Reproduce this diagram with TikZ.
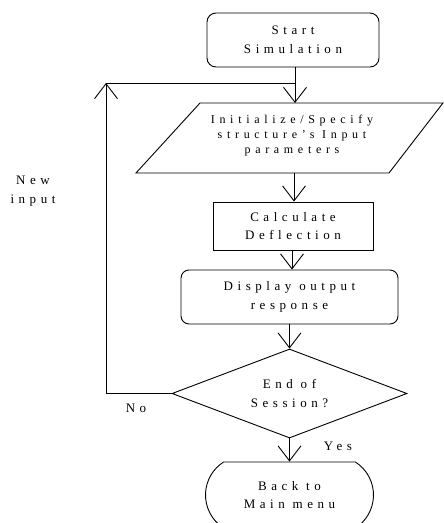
\documentclass[tikz,border=0pt]{standalone}
\usepackage{fontspec}
\setmainfont{Liberation Serif}[LetterSpace=35]
\usetikzlibrary{arrows.meta,shapes.geometric,shapes.misc}
\begin{document}
\begin{tikzpicture}[x=1pt,y=-1pt,
  line width=0.9pt,
  every node/.style={font=\fontsize{13}{18.5}\selectfont, align=center, inner sep=0pt},
  txt/.style={},
  ptxt/.style={font=\fontsize{12}{15}\selectfont\addfontfeature{LetterSpace=39}},
  arr/.style={-{Straight Barb[length=15pt,width=23pt,line width=0.9pt]}},
  rbox/.style={draw, rounded corners=9pt},
  pbox/.style={draw},
  decision/.style={draw, diamond, aspect=2.6},
  term/.style={draw, rounded rectangle, rounded rectangle arc length=115}
]
\useasboundingbox (0,0) rectangle (444,523);
\clip (0,0) rectangle (444,523);

% nodes
\node[rbox, minimum width=172pt, minimum height=54pt] (start) at (293,40) {Start\\Simulation};

\draw (136,173) -- (200,103) -- (443,103) -- (389,173) -- cycle;
\node[ptxt] (init) at (292,136) {Initialize/Specify\\structure's Input\\parameters};
\coordinate (pTop) at (295,103);
\coordinate (pBot) at (294,173);

\node[pbox, minimum width=160pt, minimum height=48pt] (calc) at (293,226) {Calculate\\Deflection};
\node[rbox, rounded corners=8pt, minimum width=217pt, minimum height=54pt] (disp) at (289.5,297) {Display output\\response};
\node[decision, minimum width=235pt, minimum height=89pt] (dec) at (289.5,393.5) {End of\\Session?};
\node[term, minimum width=168pt, minimum height=66pt] (back) at (289.5,495) {Back to\\Main menu};

\coordinate (corner) at (106,83);
\coordinate (join) at (295,83);

% labels
\node[txt] (newin) at (33,191) {New\\input};
\node[txt] (no) at (136,408) {No};
\node[txt] (yes) at (338,446) {Yes};

% connectors
\draw[arr] ([xshift=2pt]start.south) -- (pTop);
\draw[arr] (pBot) -- (pBot |- calc.north);
\draw[arr] ([xshift=-1pt]calc.south) -- ([xshift=-1pt]calc.south |- disp.north);
\draw[arr] (disp.south) -- (dec.north);
\draw[arr] (dec.south) -- (back.north);
\draw[arr] (dec.west) -| (corner);
\draw (corner) -- (join);
\end{tikzpicture}
\end{document}
